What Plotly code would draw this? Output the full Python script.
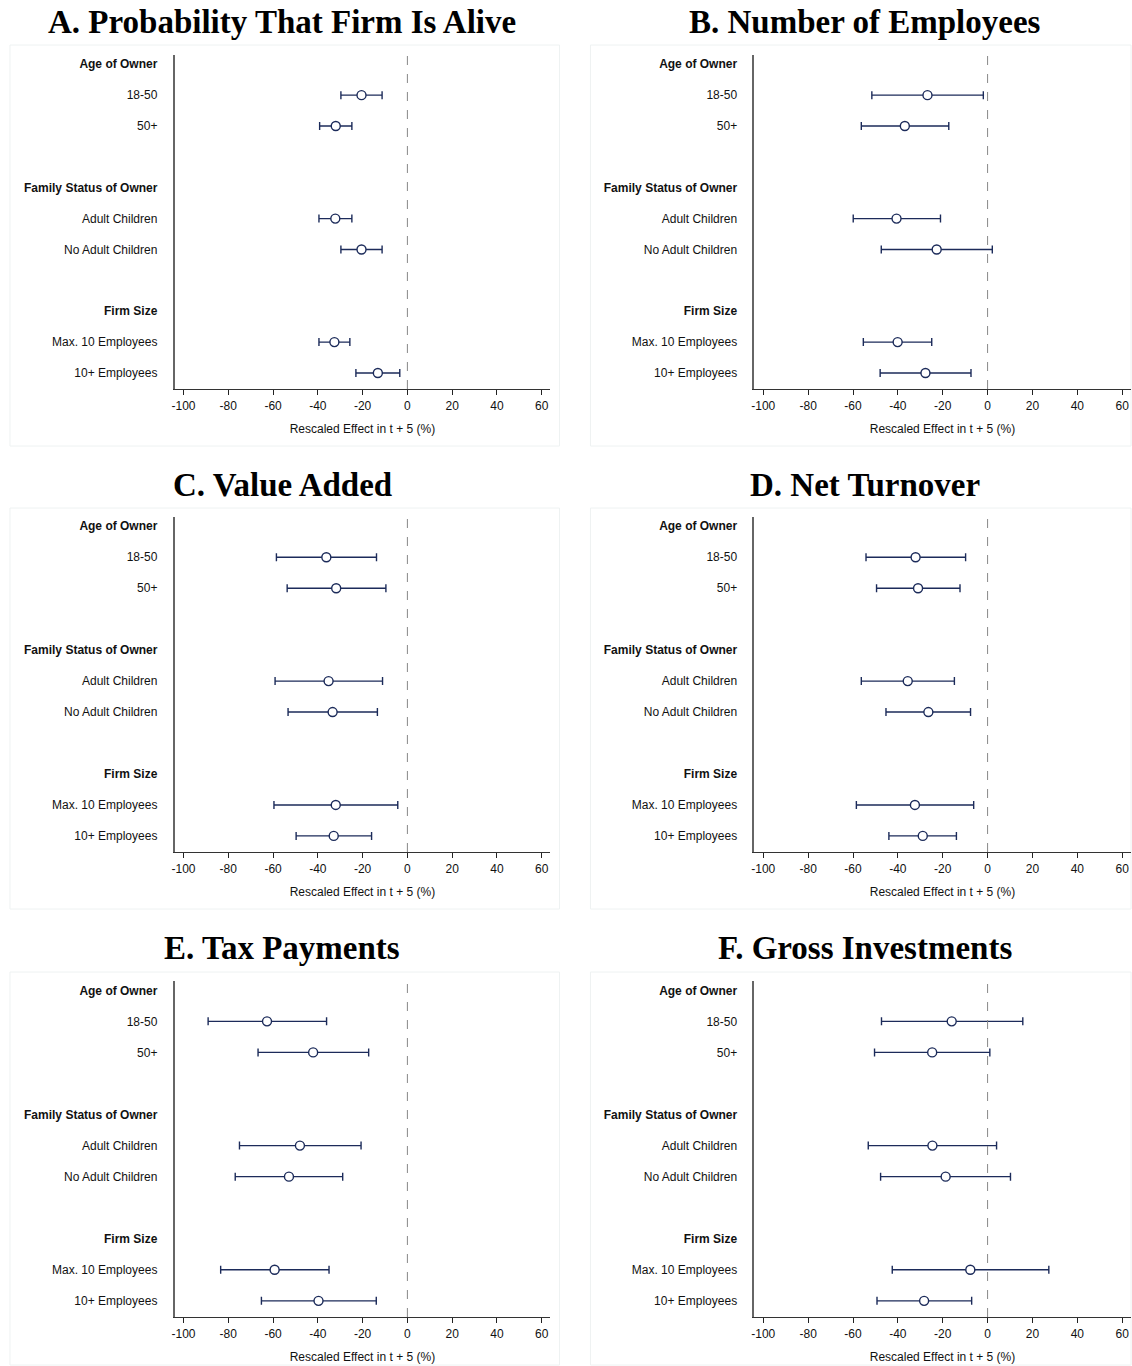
import plotly.graph_objects as go

W, H = 1132, 1366

# ---------------- data ----------------
panel_titles = ["A. Probability That Firm Is Alive", "B. Number of Employees",
                "C. Value Added", "D. Net Turnover",
                "E. Tax Payments", "F. Gross Investments"]

row_positions = [0, 1, 2, 4, 5, 6, 8, 9, 10]
row_texts = ["<b>Age of Owner</b>", "18-50", "50+",
             "<b>Family Status of Owner</b>", "Adult Children", "No Adult Children",
             "<b>Firm Size</b>", "Max. 10 Employees", "10+ Employees"]
point_rows = [1, 2, 5, 6, 9, 10]

x_tickvals = [-100, -80, -60, -40, -20, 0, 20, 40, 60]
x_title = "Rescaled Effect in t + 5 (%)"

# estimates, lower CI, upper CI (order: 18-50, 50+, Adult, No Adult, Max10, 10+)
est_A = [-20.5, -32.0, -32.2, -20.5, -32.6, -13.2]
lo_A = [-29.7, -39.2, -39.5, -29.7, -39.5, -23.0]
hi_A = [-11.3, -24.8, -24.8, -11.3, -25.7, -3.4]

est_B = [-26.8, -36.9, -40.6, -22.7, -40.1, -27.7]
lo_B = [-51.6, -56.3, -59.9, -47.4, -55.4, -47.9]
hi_B = [-1.9, -17.3, -21.0, 2.1, -24.9, -7.4]

est_C = [-36.2, -31.8, -35.2, -33.4, -32.0, -32.9]
lo_C = [-58.5, -53.7, -59.1, -53.3, -59.6, -49.7]
hi_C = [-13.8, -9.6, -11.1, -13.4, -4.3, -16.0]

est_D = [-32.1, -31.0, -35.6, -26.4, -32.4, -28.9]
lo_D = [-54.2, -49.5, -56.3, -45.3, -58.5, -44.0]
hi_D = [-9.8, -12.3, -14.8, -7.6, -6.2, -13.9]

est_E = [-62.7, -42.1, -48.0, -52.9, -59.3, -39.7]
lo_E = [-89.0, -66.7, -75.0, -76.9, -83.4, -65.2]
hi_E = [-36.1, -17.3, -20.7, -28.9, -35.0, -13.9]

est_F = [-16.0, -24.7, -24.6, -18.7, -7.7, -28.3]
lo_F = [-47.3, -50.4, -53.2, -47.7, -42.5, -49.3]
hi_F = [15.7, 1.0, 4.0, 10.2, 27.3, -7.1]

panels = [(est_A, lo_A, hi_A), (est_B, lo_B, hi_B), (est_C, lo_C, hi_C),
          (est_D, lo_D, hi_D), (est_E, lo_E, hi_E), (est_F, lo_F, hi_F)]

# ---------------- layout geometry (pixels) ----------------
col_x = [(172, 548.7), (753.3, 1130.7)]           # plot area left/right
row_y = [(55, 389), (517, 852), (981, 1317)]      # plot area top/bottom
title_y = [22, 485, 948]
title_x = [280, 864]
box_x = [(7, 558), (589, 1131)]
box_y = [(45, 446), (508, 909), (972, 1365)]

NAVY = "#1c2b5a"
FONT = "Liberation Sans, Arial, sans-serif"

fig = go.Figure()
layout_axes = {}
shapes = []
annotations = []

for i, (est, lo, hi) in enumerate(panels):
    r, c = divmod(i, 2)
    n = i + 1
    xa = "x" if n == 1 else f"x{n}"
    ya = "y" if n == 1 else f"y{n}"
    plus = [h - e for e, h in zip(est, hi)]
    minus = [e - l for e, l in zip(est, lo)]
    fig.add_trace(go.Scatter(
        x=est, y=point_rows, mode="markers", xaxis=xa, yaxis=ya,
        marker=dict(symbol="circle", size=9, color="white",
                    line=dict(color=NAVY, width=1.4)),
        error_x=dict(type="data", symmetric=False, array=plus, arrayminus=minus,
                     color=NAVY, thickness=1.4, width=4),
        showlegend=False, hoverinfo="x"))

    x0, x1 = col_x[c]
    yt, yb = row_y[r]
    xkey = "xaxis" if n == 1 else f"xaxis{n}"
    ykey = "yaxis" if n == 1 else f"yaxis{n}"
    layout_axes[xkey] = dict(
        domain=[x0 / W, x1 / W], anchor=ya, range=[-104, 63.8],
        tickvals=x_tickvals, ticktext=[str(v) for v in x_tickvals],
        ticks="outside", ticklen=5, tickwidth=1, tickcolor="#222",
        showline=True, linecolor="#333", linewidth=1.3, showgrid=False,
        zeroline=False, tickfont=dict(family=FONT, size=12, color="#111"),
        title=dict(text=x_title, font=dict(family=FONT, size=12, color="#111"),
                   standoff=13))
    layout_axes[ykey] = dict(
        domain=[1 - yb / H, 1 - yt / H], anchor=xa, range=[10.52, -0.3],
        tickvals=row_positions, ticktext=row_texts, ticks="",
        ticklabelstandoff=13,
        showline=True, linecolor="#666", linewidth=1.5, showgrid=False,
        zeroline=False, tickfont=dict(family=FONT, size=12, color="#111"))

    # dashed zero reference line
    shapes.append(dict(type="line", xref=xa, yref=f"{ya} domain",
                       x0=0, x1=0, y0=0, y1=1,
                       line=dict(color="#888", width=1, dash="dash")))
    # faint panel frame
    bx0, bx1 = box_x[c]
    by0, by1 = box_y[r]
    shapes.append(dict(type="rect", xref="paper", yref="paper",
                       x0=bx0 / W, x1=bx1 / W, y0=1 - by1 / H, y1=1 - by0 / H,
                       line=dict(color="#eef2f2", width=1), layer="below"))
    annotations.append(dict(
        text=f"<b>{panel_titles[i]}</b>", xref="paper", yref="paper",
        x=title_x[c] / W, y=1 - title_y[r] / H, xanchor="center", yanchor="middle",
        showarrow=False,
        font=dict(family="Liberation Serif, DejaVu Serif, serif", size=33, color="#000")))

fig.update_layout(
    width=W, height=H, autosize=False,
    margin=dict(l=0, r=0, t=0, b=0),
    paper_bgcolor="white", plot_bgcolor="white",
    shapes=shapes, annotations=annotations,
    **layout_axes)

fig.write_html("out.html", config={"displayModeBar": False},
               post_script="document.body.style.margin='0';document.body.style.overflow='hidden';")
